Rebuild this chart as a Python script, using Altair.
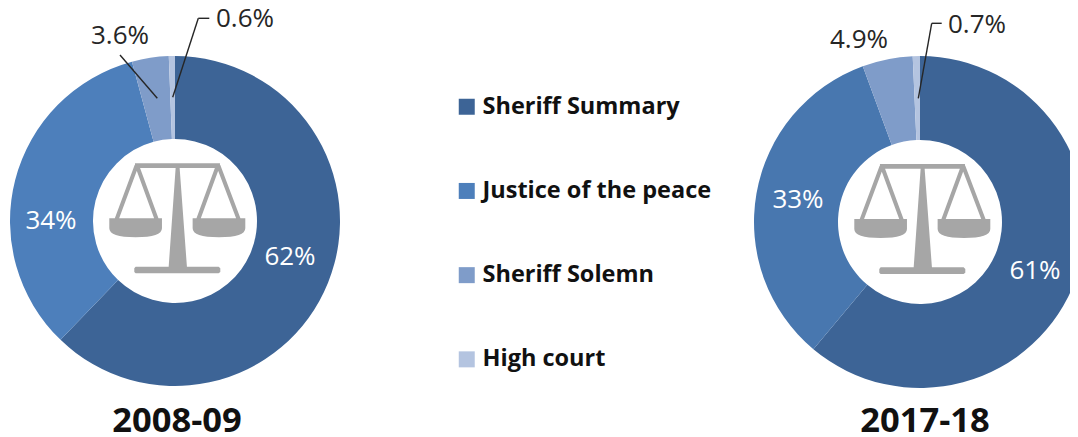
import altair as alt
import pandas as pd

categories = ["Sheriff Summary", "Justice of the peace", "Sheriff Solemn", "High court"]
values_2008 = [62.2, 33.6, 3.6, 0.6]
values_2017 = [61.1, 33.3, 4.9, 0.7]
labels_2008 = ["62%", "34%", "3.6%", "0.6%"]
labels_2017 = ["61%", "33%", "4.9%", "0.7%"]
colors = ["#3D6496", "#4D7FBB", "#7F9CC9", "#B4C4E0"]
colors_2017 = ["#3D6496", "#4877AF", "#7F9CC9", "#B4C4E0"]
periods = ["2008-09", "2017-18"]

FONT = "Open Sans"
M = 8  # page margin


def frame(vals, fills):
    return pd.DataFrame({"category": categories, "value": vals,
                         "rank": range(len(vals)), "hex": fills})


def donut(vals, cx, cy, r, fills):
    return alt.Chart(frame(vals, fills)).mark_arc(innerRadius=82, outerRadius=r).encode(
        theta=alt.Theta("value:Q", stack="normalize"),
        order=alt.Order("rank:Q"),
        x=alt.value(cx - M), y=alt.value(cy - M),
    )


def label(txt, x, y, color="#262626", size=26, weight="normal"):
    return alt.Chart(pd.DataFrame({"t": [txt]})).mark_text(
        font=FONT, fontSize=size, fontWeight=weight, color=color, align="center", baseline="middle"
    ).encode(text="t:N", x=alt.value(x - M), y=alt.value(y - M))


def rule(x1, y1, x2, y2):
    return alt.Chart(pd.DataFrame({"a": [0]})).mark_rule(color="#262626", strokeWidth=1.4).encode(
        x=alt.value(x1 - M), y=alt.value(y1 - M), x2=alt.value(x2 - M), y2=alt.value(y2 - M)
    )


def poly(pts):
    # icon outline measured around its own centre, normalised to a -1..1 box
    return "M" + "L".join(f"{(x-262)/240:.4f},{(y-235)/240:.4f}" for x, y in pts) + "Z"


def pan(x0, x1):
    w = x1 - x0
    a = f"M{(x0-262)/240:.4f},{(235-235)/240:.4f}L{(x1-262)/240:.4f},0"
    a += f"L{(x1-262)/240:.4f},{(265-235)/240:.4f}"
    a += f"Q{(x1-262)/240:.4f},{(292-235)/240:.4f} {(x0+w/2-262)/240:.4f},{(292-235)/240:.4f}"
    a += f"Q{(x0-262)/240:.4f},{(292-235)/240:.4f} {(x0-262)/240:.4f},{(265-235)/240:.4f}Z"
    return a


ICON = "".join([
    poly([(135, 70), (390, 70), (390, 84), (135, 84)]),
    poly([(257, 84), (269, 84), (291, 382), (236, 382)]),
    poly([(137, 380), (386, 380), (391, 385), (391, 396), (386, 400), (137, 400), (133, 396), (133, 385)]),
    poly([(134, 75), (147, 75), (87, 236), (74, 236)]),
    poly([(134, 75), (147, 75), (206, 236), (193, 236)]),
    poly([(378, 75), (391, 75), (332, 236), (319, 236)]),
    poly([(378, 75), (391, 75), (452, 236), (439, 236)]),
    pan(58, 216),
    pan(308, 466),
])


def icon(cx, cy):
    return alt.Chart(pd.DataFrame({"a": [0]})).mark_point(
        shape=ICON, filled=True, fill="#A6A6A6", opacity=1, strokeWidth=0
    ).encode(x=alt.value(cx - M), y=alt.value(cy - M), size=alt.value(25600))


legend = alt.Legend(
    orient="none", legendX=455 - M, legendY=95 - M, title=None,
    symbolType="square", symbolSize=256, symbolStrokeWidth=0,
    labelFont=FONT, labelFontSize=23.5, labelFontWeight="bold", labelColor="#111111",
    labelOffset=4, rowPadding=59.2, padding=0, labelLimit=400,
)

left = donut(values_2008, 175, 221, 165, colors).encode(
    color=alt.Color("category:N", sort=categories,
                    scale=alt.Scale(domain=categories, range=colors), legend=legend)
)
right = donut(values_2017, 920, 222, 166, colors_2017).encode(
    fill=alt.Fill("hex:N", scale=None)
)

layers = [
    left,
    right,
    icon(177.3, 218.3),
    icon(922.3, 219),
    rule(120, 55, 157.3, 98.3),
    rule(209.3, 18.3, 198.3, 18.3),
    rule(198.3, 18.3, 172.7, 97.3),
    rule(941.7, 23.3, 931.7, 23.3),
    rule(931.7, 23.3, 918.3, 98.3),
    label(labels_2008[0], 290, 257, "white"),
    label(labels_2008[1], 51, 221, "white"),
    label(labels_2008[2], 120, 36),
    label(labels_2008[3], 245, 19),
    label(labels_2017[0], 1035, 271, "white"),
    label(labels_2017[1], 798, 200, "white"),
    label(labels_2017[2], 859, 40),
    label(labels_2017[3], 977, 25),
    label(periods[0], 177, 422, "#111111", 34.5, "bold"),
    label(periods[1], 925, 422, "#111111", 34.5, "bold"),
]

chart = alt.layer(*layers).properties(
    width=1062, height=429, padding=0, autosize=alt.AutoSizeParams(type="none")
).configure_view(stroke=None)

chart.save("out.html", embed_options={"renderer": "svg", "actions": False})
